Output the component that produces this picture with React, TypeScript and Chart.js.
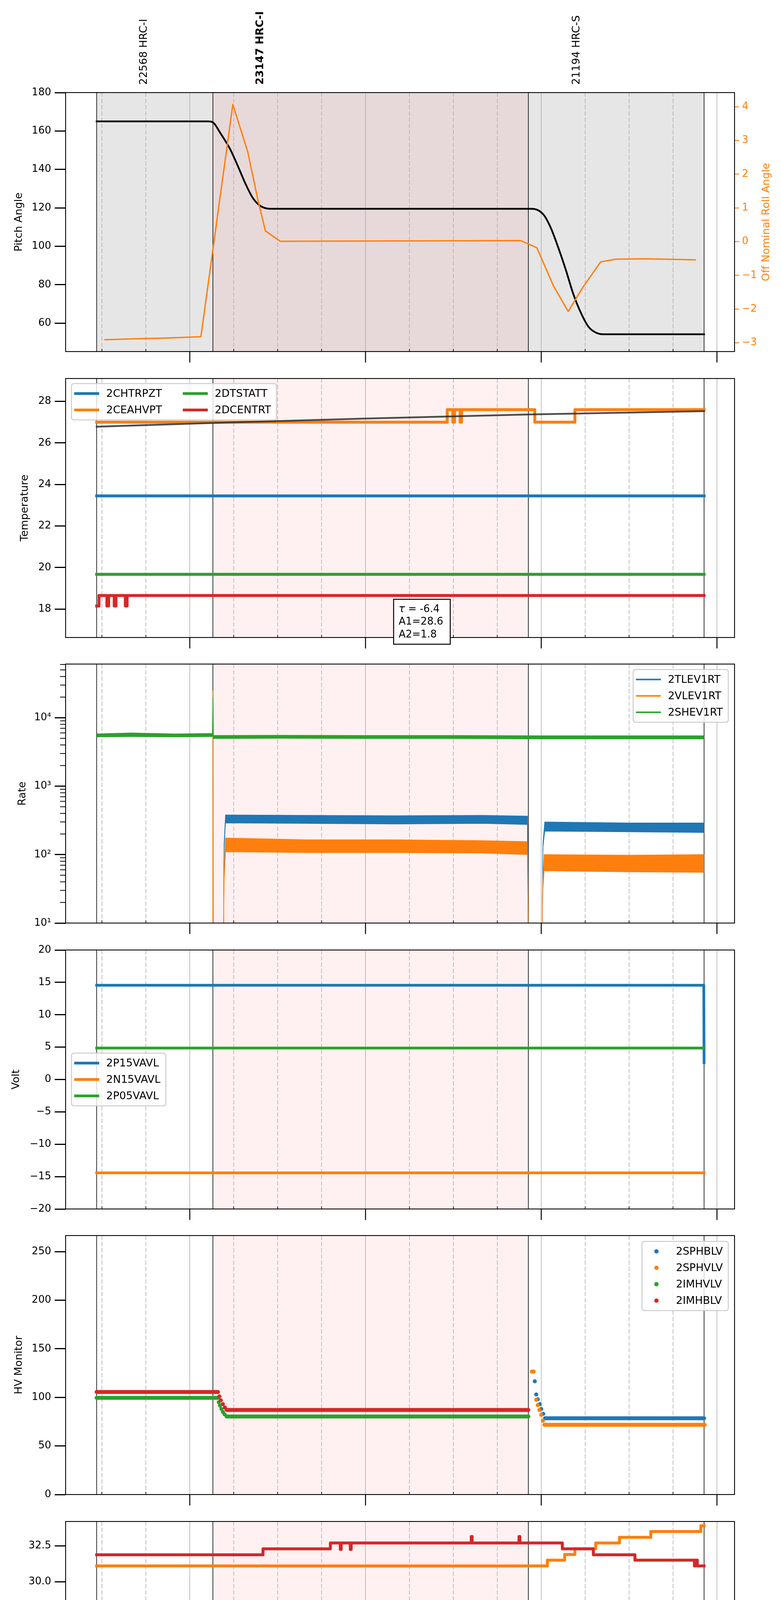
import React, { useEffect, useRef } from "react";
import { Chart, registerables } from "chart.js";

Chart.register(...registerables);

const FONT = "DejaVu Sans";
const BLUE = "#1f77b4";
const ORANGE = "#ff7f0e";
const GREEN = "#2ca02c";
const RED = "#d62728";

// ---- time axis (minutes of the day) ----
const X_MIN = "13:17.6";
const X_MAX = "17:06.0";
const OBS_EDGES = ["13:28.2", "14:07.9", "15:55.6", "16:55.6"];
const OBS_LABELS = ["22568 HRC-I", "23147 HRC-I", "21194 HRC-S"];
const OBS_LABEL_AT = ["13:44.4", "14:24.1", "16:12.1"];
const OBS_BOLD = 1;
const HOUR_TICKS = ["14:00", "15:00", "16:00", "17:00"];
const HOUR_LABELS = ["14h", "15h", "16h", "17h"];
const MINOR_TICKS = ["13:30", "13:45", "14:15", "14:30", "14:45", "15:15", "15:30", "15:45", "16:15", "16:30", "16:45"];
const MINOR_LABELS = ["30", "45", "15", "30", "45", "15", "30", "45", "15", "30", "45"];
const X_TITLE = "2020-02-17 (048)";

// ---- panel 1: pitch / roll ----
const PITCH_T = ["13:28.2", "14:06.2", "14:07.9", "14:10.4", "14:13.8", "14:16.4", "14:19.0", "14:21.5", "14:24.1", "14:27.5", "15:56.8", "16:00.7", "16:03.2", "16:05.8", "16:08.4", "16:10.9", "16:13.5", "16:16.1", "16:18.6", "16:21.2", "16:55.6"];
const PITCH_V = [165, 165, 164.5, 159, 150.5, 141.8, 132.6, 125.2, 121, 119.5, 119.5, 116.6, 109.8, 99.4, 87.7, 75.4, 65.5, 58.2, 55.1, 54.2, 54.2];
const ROLL_T = ["13:30.8", "13:41.4", "13:51.6", "14:03.8", "14:14.7", "14:19.8", "14:23.2", "14:25.8", "14:30.9", "15:12.0", "15:53.0", "15:58.5", "16:04.1", "16:09.2", "16:14.4", "16:20.3", "16:25.5", "16:35.7", "16:52.8"];
const ROLL_V = [-2.91, -2.88, -2.86, -2.82, 4.07, 2.66, 1.26, 0.32, 0.01, 0.02, 0.03, -0.18, -1.3, -2.07, -1.33, -0.6, -0.52, -0.51, -0.54];
const PITCH_TICKS = [60, 80, 100, 120, 140, 160, 180];
const ROLL_TICKS = [-3, -2, -1, 0, 1, 2, 3, 4];

// ---- panel 2: temperature ----
const CHTRPZT_T = ["13:28.2", "16:55.6"];
const CHTRPZT_V = [23.45, 23.45];
const CEAHVPT_T = ["13:28.2", "15:27.9", "15:29.8", "15:30.4", "15:32.3", "15:32.8", "15:57.8", "16:11.5", "16:55.6"];
const CEAHVPT_V = [27.0, 27.6, 27.0, 27.6, 27.0, 27.6, 27.0, 27.6, 27.6];
const DTSTATT_T = ["13:28.2", "16:55.6"];
const DTSTATT_V = [19.67, 19.67];
const DCENTRT_T = ["13:28.2", "13:29.0", "13:31.7", "13:32.3", "13:34.2", "13:34.8", "13:38.0", "13:38.6", "16:55.6"];
const DCENTRT_V = [18.15, 18.65, 18.15, 18.65, 18.15, 18.65, 18.15, 18.65, 18.65];
const FIT_T = ["13:28.2", "14:08.0", "15:00.0", "15:56.0", "16:55.6"];
const FIT_V = [26.78, 26.96, 27.17, 27.37, 27.53];
const FIT_TEXT = ["τ", " = -6.4", "A1=28.6", "A2=1.8"];
const FIT_BOX_AT = { t: "15:09.6", v: 18.47 };
const TEMP_TICKS = [18, 20, 22, 24, 26, 28];

// ---- panel 3: rates (noise band: upper / lower edge) ----
const TLEV_T = ["14:11.4", "14:11.7", "14:12.2", "14:40", "15:10", "15:40", "15:55.3", "15:55.7", "16:00.2", "16:00.6", "16:01.2", "16:30", "16:55.6"];
const TLEV_HI = [1, 140, 380, 375, 370, 375, 365, 1, 1, 150, 300, 290, 290];
const TLEV_LO = [1, 120, 290, 285, 280, 285, 275, 1, 1, 130, 220, 215, 210];
const VLEV_T = ["14:07.8", "14:07.95", "14:08.1", "14:11.4", "14:11.7", "14:12.2", "14:40", "15:10", "15:40", "15:55.3", "15:55.7", "16:00.1", "16:00.5", "16:01.0", "16:30", "16:55.6"];
const VLEV_HI = [1, 25000, 1, 1, 50, 175, 165, 165, 160, 155, 1, 1, 35, 100, 98, 100];
const VLEV_LO = [1, 24000, 1, 1, 40, 110, 107, 107, 105, 100, 1, 1, 28, 58, 56, 55];
const SHEV_T = ["13:28.2", "13:40", "13:55", "14:07.7", "14:07.9", "14:08.1", "14:30", "15:00", "15:30", "16:00", "16:30", "16:55.6"];
const SHEV_HI = [5800, 6000, 5800, 5900, 20000, 5500, 5550, 5500, 5500, 5450, 5450, 5450];
const SHEV_LO = [5250, 5300, 5250, 5300, 5400, 4950, 5000, 4950, 4950, 4900, 4900, 4900];
const RATE_TICKS = [10, 100, 1000, 10000];

// ---- panel 4: volt ----
const P15_T = ["13:28.2", "16:55.5", "16:55.6"];
const P15_V = [14.55, 14.55, 2.6];
const N15_T = ["13:28.2", "16:55.6"];
const N15_V = [-14.42, -14.42];
const P05_T = ["13:28.2", "16:55.6"];
const P05_V = [4.86, 4.86];
const VOLT_TICKS = [-20, -15, -10, -5, 0, 5, 10, 15, 20];

// ---- panel 5: HV monitor (null = gap between samples) ----
const SPHBLV_T = ["15:57.8", "15:57.8", "15:58.3", "15:58.3", "15:58.8", "15:58.8", "15:59.5", "15:59.5", "16:00.0", "16:00.0", "16:00.7", "16:00.7", "16:01.3", "16:55.6"];
const SPHBLV_V = [116.5, null, 103, null, 98, null, 93, null, 88, null, 83, null, 78.5, 78.5];
const SPHVLV_T = ["15:56.8", "15:57.4", "15:57.4", "15:58.3", "15:58.3", "15:58.8", "15:58.8", "15:59.4", "15:59.4", "16:00.0", "16:00.0", "16:00.6", "16:00.6", "16:01.1", "16:55.8"];
const SPHVLV_V = [126.5, 126.5, null, 97.5, null, 92, null, 87, null, 82, null, 76, null, 71.8, 71.8];
const IMHVLV_T = ["13:28.2", "14:09.6", "14:09.6", "14:09.9", "14:09.9", "14:10.3", "14:10.3", "14:10.8", "14:10.8", "14:11.3", "14:11.3", "14:11.9", "14:11.9", "14:12.6", "15:55.6"];
const IMHVLV_V = [99.5, 99.5, null, 95, null, 91.5, null, 88, null, 85, null, 82.5, null, 80.3, 80.3];
const IMHBLV_T = ["13:28.2", "14:09.6", "14:09.6", "14:10.1", "14:10.1", "14:10.6", "14:10.6", "14:11.3", "14:11.3", "14:12.0", "14:12.0", "14:12.6", "15:55.6"];
const IMHBLV_V = [105.5, 105.5, null, 101, null, 97, null, 93, null, 89.5, null, 87, 87];
const HV_TICKS = [0, 50, 100, 150, 200, 250];

// ---- panel 6: detector temp ----
const SPINATM_T = ["13:28.2", "16:55.6"];
const SPINATM_V = [19.61, 19.61];
const SPHVATM_T = ["13:28.2", "16:02.1", "16:08.0", "16:11.5", "16:18.6", "16:26.7", "16:37.4", "16:54.5", "16:55.6"];
const SPHVATM_V = [31.1, 31.5, 31.9, 32.3, 32.7, 33.1, 33.5, 33.9, 33.9];
const IMINATM_T = ["13:28.2", "15:23.9", "16:55.6"];
const IMINATM_V = [17.61, 18.27, 18.27];
const IMHVATM_T = ["13:28.2", "14:25.0", "14:48.0", "14:51.4", "14:51.7", "14:54.8", "14:55.1", "15:36.1", "15:36.4", "15:52.4", "15:52.7", "16:07.2", "16:17.8", "16:32.0", "16:52.3", "16:52.8", "16:53.3", "16:55.6"];
const IMHVATM_V = [31.88, 32.29, 32.7, 32.25, 32.7, 32.25, 32.7, 33.15, 32.7, 33.15, 32.7, 32.29, 31.88, 31.5, 31.1, 31.5, 31.1, 31.1];
const DET_TICKS = [17.5, 20, 22.5, 25, 27.5, 30, 32.5];

// ---- panel 7: FEA temp ----
const FHTRMZT_T = ["13:28.2", "15:12.7", "15:13.0", "15:27.1", "15:27.4", "15:45.7", "15:46.0", "15:51.3", "15:53.6", "15:53.9", "16:51.5", "16:51.8", "16:55.6"];
const FHTRMZT_V = [22.35, 21.72, 22.35, 22.92, 22.35, 21.72, 22.35, 21.83, 22.35, 21.83, 20.6, 21.83, 21.83];
const FRADPYT_T = ["13:28.2", "14:11.8", "14:23.6", "15:39.0", "16:26.8", "16:51.5", "16:55.6"];
const FRADPYT_V = [18.14, 18.65, 18.14, 17.65, 17.15, 16.67, 16.67];
const FEPRATM_T = ["13:28.2", "16:40.0", "16:40.3", "16:52.5", "16:55.6"];
const FEPRATM_V = [24.63, 23.85, 24.63, 23.85, 23.85];
const FE00ATM_T = ["13:28.2", "14:40.0", "14:40.3", "14:42.6", "14:42.9", "14:48.4", "14:48.7", "14:51.8", "14:52.1", "15:10.8", "15:11.1", "15:27.0", "15:27.3", "15:29.9", "15:30.2", "15:32.5", "15:32.8",
  "15:33.8", "15:34.4", "15:35.0", "15:35.7", "15:36.3", "15:37.0", "15:37.6", "15:38.4", "15:39.0", "15:39.8", "15:40.4", "15:41.2", "15:41.8", "15:42.7", "15:43.3", "15:44.2", "15:44.8",
  "15:47.0", "15:47.3", "16:11.5", "16:11.8", "16:30.9", "16:31.2", "16:31.5", "16:31.8", "16:38.3", "16:38.6", "16:40.0", "16:40.3", "16:48.0", "16:48.3", "16:51.1", "16:55.6"];
const FE00ATM_V = [22.02, 22.35, 22.02, 22.35, 22.02, 21.38, 22.02, 21.38, 22.02, 21.38, 22.02, 21.75, 22.02, 21.75, 22.02, 21.75, 22.02,
  21.72, 22.05, 21.72, 22.05, 21.72, 22.05, 21.72, 22.05, 21.72, 22.05, 21.72, 22.05, 21.72, 22.05, 21.72, 22.05, 21.72,
  21.38, 21.72, 22.05, 21.72, 22.05, 21.72, 21.05, 21.72, 21.05, 21.72, 21.38, 21.72, 21.05, 21.72, 21.41, 21.41];
const FEA_TICKS = [18, 20, 22, 24, 26];

// ---- layout ----
const W = 2000;
const LEFT_W = 168;
const RIGHT_W = 119;
const PANEL_TOP = [237, 969, 1700, 2432, 3163, 3895, 4627];
const PANEL_H = 663;
const CANVAS_TOP = PANEL_TOP.map((t, i) => (i === 0 ? 0 : t - 30));
const CANVAS_H = PANEL_TOP.map((t, i) => (i < 6 ? PANEL_TOP[i + 1] - 30 : 5400) - CANVAS_TOP[i]);

const tm = (s: string) => {
  const [h, m] = s.split(":");
  return Number(h) * 60 + Number(m);
};
const pts = (t: string[], v: (number | null)[]) => t.map((s, i) => ({ x: tm(s), y: v[i] }));
const stepPts = (t: string[], v: number[]) => {
  const out: { x: number; y: number }[] = [];
  t.forEach((s, i) => {
    if (i > 0) out.push({ x: tm(s), y: v[i - 1] });
    out.push({ x: tm(s), y: v[i] });
  });
  return out;
};
const minus = (v: number) => (v < 0 ? "\u2212" + Math.abs(v) : String(v));
const SUP = ["\u2070", "\u00b9", "\u00b2", "\u00b3", "\u2074", "\u2075"];

const line = (label: string, color: string, data: any[], width: number, extra: any = {}) => ({
  label,
  data,
  borderColor: color,
  backgroundColor: color,
  borderWidth: width,
  pointRadius: 0,
  pointHoverRadius: 0,
  fill: false,
  tension: 0,
  borderCapStyle: "square",
  borderJoinStyle: "round",
  ...extra,
});

const band = (label: string, color: string, t: string[], hi: number[], lo: number[]) => [
  line(label, color, pts(t, hi), 1.5, { fill: "+1", backgroundColor: color, borderCapStyle: "butt" }),
  line("_" + label, color, pts(t, lo), 1.5, { borderCapStyle: "butt" }),
];

const hv = (label: string, color: string, t: string[], v: (number | null)[]) =>
  line(label, color, pts(t, v), 10, {
    borderCapStyle: "round",
    pointRadius: 5,
    pointBorderWidth: 0,
    pointBackgroundColor: color,
    spanGaps: false,
  });

function yScale(title: string, titlePad: number, min: number, max: number, ticks: number[], fmt: (v: number) => string = minus, type = "linear") {
  return {
    type,
    position: "left",
    min,
    max,
    bounds: "data",
    afterFit: (s: any) => {
      s.width = LEFT_W;
    },
    afterBuildTicks: (s: any) => {
      s.ticks = ticks.map((value) => ({ value }));
    },
    ticks: { font: { family: FONT, size: 26 }, color: "#000", padding: 9, autoSkip: false, maxRotation: 0, callback: (v: any) => fmt(Number(v)) },
    grid: { drawOnChartArea: false, drawTicks: true, tickLength: 28, tickWidth: 3, tickColor: "#000" },
    border: { display: false },
    title: { display: true, text: title, color: "#000", font: { family: FONT, size: 27 }, padding: { top: titlePad, bottom: 0 } },
  };
}

function roundRect(ctx: CanvasRenderingContext2D, x: number, y: number, w: number, h: number, r: number) {
  ctx.beginPath();
  ctx.moveTo(x + r, y);
  ctx.arcTo(x + w, y, x + w, y + h, r);
  ctx.arcTo(x + w, y + h, x, y + h, r);
  ctx.arcTo(x, y + h, x, y, r);
  ctx.arcTo(x, y, x + w, y, r);
  ctx.closePath();
}

function drawLegend(chart: any, lg: any) {
  const { ctx, chartArea: a } = chart;
  const items = chart.data.datasets
    .filter((d: any) => d.label && d.label[0] !== "_")
    .map((d: any) => ({ label: d.label, color: d.borderColor }));
  ctx.save();
  ctx.font = `27px ${FONT}`;
  const cols = lg.cols || 1;
  const rows = Math.ceil(items.length / cols);
  const textOff = lg.dot ? 87 : 89;
  const colX: number[] = [];
  let width = 0;
  for (let c = 0; c < cols; c++) {
    const w = Math.max(...items.slice(c * rows, (c + 1) * rows).map((it: any) => ctx.measureText(it.label).width));
    colX.push(width);
    width += textOff + w + (c < cols - 1 ? 46 : 14);
  }
  const height = 51 + (rows - 1) * 42;
  const L = lg.side === "left" ? a.left + 15 : a.right - 16 - width;
  const T = lg.top === "center" ? (a.top + a.bottom - height) / 2 : a.top + lg.top;
  roundRect(ctx, L, T, width, height, 6);
  ctx.fillStyle = "rgba(255,255,255,0.8)";
  ctx.fill();
  ctx.strokeStyle = "#cccccc";
  ctx.lineWidth = 2.5;
  ctx.stroke();
  items.forEach((it: any, k: number) => {
    const c = Math.floor(k / rows);
    const r = k % rows;
    const x0 = L + colX[c];
    const yy = T + 25.5 + r * 42;
    if (lg.dot) {
      ctx.fillStyle = it.color;
      ctx.beginPath();
      ctx.arc(x0 + 37, yy, 5.5, 0, Math.PI * 2);
      ctx.fill();
    } else {
      ctx.strokeStyle = it.color;
      ctx.lineWidth = lg.lw;
      ctx.lineCap = "butt";
      ctx.beginPath();
      ctx.moveTo(x0 + 7, yy);
      ctx.lineTo(x0 + 71, yy);
      ctx.stroke();
    }
    ctx.fillStyle = "#000";
    ctx.textAlign = "left";
    ctx.textBaseline = "middle";
    ctx.fillText(it.label, x0 + textOff, yy + 1);
  });
  ctx.restore();
}

function decor(cfg: any) {
  return {
    id: "decor",
    beforeDatasetsDraw(chart: any) {
      const { ctx, chartArea: a } = chart;
      const px = (s: string) => chart.scales.x.getPixelForValue(tm(s));
      const vline = (xx: number) => {
        ctx.beginPath();
        ctx.moveTo(xx, a.top);
        ctx.lineTo(xx, a.bottom);
        ctx.stroke();
      };
      ctx.save();
      ctx.beginPath();
      ctx.rect(a.left, a.top, a.right - a.left, a.bottom - a.top);
      ctx.clip();
      if (cfg.gray) {
        ctx.fillStyle = "rgba(128,128,128,0.2)";
        ctx.fillRect(px(OBS_EDGES[0]), a.top, px(OBS_EDGES[3]) - px(OBS_EDGES[0]), a.bottom - a.top);
      }
      ctx.fillStyle = "rgba(255,0,0,0.055)";
      ctx.fillRect(px(OBS_EDGES[1]), a.top, px(OBS_EDGES[2]) - px(OBS_EDGES[1]), a.bottom - a.top);
      ctx.strokeStyle = "#b0b0b0";
      ctx.lineWidth = 1.6;
      ctx.setLineDash([11, 5]);
      MINOR_TICKS.forEach((s) => vline(px(s)));
      ctx.setLineDash([]);
      HOUR_TICKS.forEach((s) => vline(px(s)));
      ctx.strokeStyle = "#000";
      OBS_EDGES.forEach((s) => vline(px(s)));
      ctx.restore();
    },
    afterDraw(chart: any) {
      const { ctx, chartArea: a } = chart;
      const px = (s: string) => chart.scales.x.getPixelForValue(tm(s));
      const seg = (x1: number, y1: number, x2: number, y2: number) => {
        ctx.beginPath();
        ctx.moveTo(x1, y1);
        ctx.lineTo(x2, y2);
        ctx.stroke();
      };
      ctx.save();
      ctx.strokeStyle = "#000";
      ctx.lineWidth = 2.2;
      ctx.strokeRect(a.left, a.top, a.right - a.left, a.bottom - a.top);
      ctx.lineWidth = 2.5;
      HOUR_TICKS.forEach((s) => seg(px(s), a.bottom, px(s), a.bottom + 28));
      ctx.lineWidth = 1.6;
      MINOR_TICKS.forEach((s) => seg(px(s), a.bottom, px(s), a.bottom - 7));

      if (cfg.logMinor) {
        const y = chart.scales.y;
        ctx.lineWidth = 2;
        for (let d = 1; d <= 4; d++) {
          for (let m = 2; m <= 9; m++) {
            const v = m * Math.pow(10, d);
            if (v > y.max) continue;
            const yy = y.getPixelForValue(v);
            seg(a.left - 14, yy, a.left, yy);
          }
        }
      }

      if (cfg.obs) {
        OBS_LABELS.forEach((s, i) => {
          ctx.save();
          ctx.translate(px(OBS_LABEL_AT[i]), a.top - 20);
          ctx.rotate(-Math.PI / 2);
          ctx.font = `${i === OBS_BOLD ? "bold " : ""}27px ${FONT}`;
          ctx.fillStyle = "#000";
          ctx.textAlign = "left";
          ctx.textBaseline = "middle";
          ctx.fillText(s, 0, 0);
          ctx.restore();
        });
        ctx.save();
        ctx.translate(a.right + 82, (a.top + a.bottom) / 2);
        ctx.rotate(-Math.PI / 2);
        ctx.font = `27px ${FONT}`;
        ctx.fillStyle = ORANGE;
        ctx.textAlign = "center";
        ctx.textBaseline = "middle";
        ctx.fillText("Off Nominal Roll Angle", 0, 0);
        ctx.restore();
      }

      if (cfg.box) {
        const bx = px(FIT_BOX_AT.t);
        const by = chart.scales.y.getPixelForValue(FIT_BOX_AT.v);
        ctx.fillStyle = "#fff";
        ctx.fillRect(bx, by, 145, 115);
        ctx.strokeStyle = "#000";
        ctx.lineWidth = 2.5;
        ctx.strokeRect(bx, by, 145, 115);
        ctx.fillStyle = "#000";
        ctx.textAlign = "left";
        ctx.textBaseline = "alphabetic";
        ctx.font = `italic 26px ${FONT}`;
        ctx.fillText(FIT_TEXT[0], bx + 13, by + 33);
        const tw = ctx.measureText(FIT_TEXT[0]).width;
        ctx.font = `26px ${FONT}`;
        ctx.fillText(FIT_TEXT[1], bx + 13 + tw, by + 33);
        ctx.fillText(FIT_TEXT[2], bx + 13, by + 65);
        ctx.fillText(FIT_TEXT[3], bx + 13, by + 98);
      }

      if (cfg.xLabels) {
        ctx.fillStyle = "#000";
        ctx.textAlign = "center";
        ctx.textBaseline = "top";
        ctx.font = `19px ${FONT}`;
        MINOR_TICKS.forEach((s, i) => ctx.fillText(MINOR_LABELS[i], px(s), a.bottom + 8));
        ctx.textBaseline = "alphabetic";
        ctx.font = `27px ${FONT}`;
        HOUR_TICKS.forEach((s, i) => ctx.fillText(HOUR_LABELS[i], px(s), a.bottom + 58));
        ctx.fillText(X_TITLE, (a.left + a.right) / 2, a.bottom + 95);
      }

      if (cfg.legend) drawLegend(chart, cfg.legend);
      ctx.restore();
    },
  };
}

function makeConfig(i: number, datasets: any[], yScales: any, deco: any) {
  const padTop = i === 0 ? 237 : 30;
  const padBottom = CANVAS_H[i] - padTop - PANEL_H;
  return {
    type: "line",
    data: { datasets: datasets.map((d, k) => ({ ...d, order: -k })) },
    options: {
      animation: false,
      responsive: false,
      devicePixelRatio: 1,
      events: [],
      layout: { padding: { left: 0, right: yScales.y2 ? 0 : RIGHT_W, top: padTop, bottom: padBottom } },
      scales: {
        x: { type: "linear", display: false, min: tm(X_MIN), max: tm(X_MAX), bounds: "data" },
        ...yScales,
      },
      plugins: { legend: { display: false }, tooltip: { enabled: false } },
    },
    plugins: [decor(deco)],
  } as any;
}

function buildConfigs() {
  const pitch = makeConfig(
    0,
    [
      line("Pitch", "#000", pts(PITCH_T, PITCH_V), 4.5, { cubicInterpolationMode: "monotone" }),
      line("Roll", ORANGE, pts(ROLL_T, ROLL_V), 3.5, { yAxisID: "y2", borderCapStyle: "butt" }),
    ],
    {
      y: yScale("Pitch Angle", 32.8, 45.2, 180, PITCH_TICKS),
      y2: {
        type: "linear",
        position: "right",
        min: -3.26,
        max: 4.42,
        bounds: "data",
        afterFit: (s: any) => {
          s.width = RIGHT_W;
        },
        afterBuildTicks: (s: any) => {
          s.ticks = ROLL_TICKS.map((value) => ({ value }));
        },
        ticks: { font: { family: FONT, size: 26 }, color: ORANGE, padding: 7, autoSkip: false, callback: (v: any) => minus(Number(v)) },
        grid: { drawOnChartArea: false, drawTicks: true, tickLength: 12, tickWidth: 2.2, tickColor: ORANGE },
        border: { display: false },
        title: { display: false },
      },
    },
    { gray: true, obs: true }
  );

  const temp = makeConfig(
    1,
    [
      line("2CHTRPZT", BLUE, pts(CHTRPZT_T, CHTRPZT_V), 7.5),
      line("2CEAHVPT", ORANGE, stepPts(CEAHVPT_T, CEAHVPT_V), 7.5),
      line("2DTSTATT", GREEN, pts(DTSTATT_T, DTSTATT_V), 7.5),
      line("2DCENTRT", RED, stepPts(DCENTRT_T, DCENTRT_V), 7.5),
      line("_fit", "rgba(45,45,45,0.85)", pts(FIT_T, FIT_V), 4.5),
    ],
    { y: yScale("Temperature", 47.8, 16.63, 29.1, TEMP_TICKS) },
    { legend: { side: "left", top: 13, cols: 2, lw: 7 }, box: true }
  );

  const rate = makeConfig(
    2,
    [
      ...band("2TLEV1RT", BLUE, TLEV_T, TLEV_HI, TLEV_LO),
      ...band("2VLEV1RT", ORANGE, VLEV_T, VLEV_HI, VLEV_LO),
      ...band("2SHEV1RT", GREEN, SHEV_T, SHEV_HI, SHEV_LO),
    ],
    { y: yScale("Rate", 41.5, 10, 60800, RATE_TICKS, (v) => "10" + SUP[Math.round(Math.log10(v))], "logarithmic") },
    { legend: { side: "right", top: 14, lw: 4 }, logMinor: true }
  );

  const volt = makeConfig(
    3,
    [
      line("2P15VAVL", BLUE, pts(P15_T, P15_V), 7),
      line("2N15VAVL", ORANGE, pts(N15_T, N15_V), 7),
      line("2P05VAVL", GREEN, pts(P05_T, P05_V), 7),
    ],
    { y: yScale("Volt", 26.1, -20, 20, VOLT_TICKS) },
    { legend: { side: "left", top: "center", lw: 7 } }
  );

  const hvmon = makeConfig(
    4,
    [
      hv("2SPHBLV", BLUE, SPHBLV_T, SPHBLV_V),
      hv("2SPHVLV", ORANGE, SPHVLV_T, SPHVLV_V),
      hv("2IMHVLV", GREEN, IMHVLV_T, IMHVLV_V),
      hv("2IMHBLV", RED, IMHBLV_T, IMHBLV_V),
    ],
    { y: yScale("HV Monitor", 32.5, 0, 266.5, HV_TICKS) },
    { legend: { side: "right", top: 15, dot: true } }
  );

  const det = makeConfig(
    5,
    [
      line("2SPINATM", BLUE, pts(SPINATM_T, SPINATM_V), 7.5),
      line("2SPHVATM", ORANGE, stepPts(SPHVATM_T, SPHVATM_V), 7.5),
      line("2IMINATM", GREEN, stepPts(IMINATM_T, IMINATM_V), 7.5),
      line("2IMHVATM", RED, stepPts(IMHVATM_T, IMHVATM_V), 7.5),
    ],
    { y: yScale("Detector Temp", 26.1, 16.14, 34.2, DET_TICKS, (v) => v.toFixed(1)) },
    { legend: { side: "right", top: "center", lw: 7 } }
  );

  const fea = makeConfig(
    6,
    [
      line("2FHTRMZT", BLUE, stepPts(FHTRMZT_T, FHTRMZT_V), 7.5),
      line("2FRADPYT", ORANGE, stepPts(FRADPYT_T, FRADPYT_V), 7.5),
      line("2FEPRATM", GREEN, stepPts(FEPRATM_T, FEPRATM_V), 7.5),
      line("2FE00ATM", RED, stepPts(FE00ATM_T, FE00ATM_V), 7.5),
    ],
    { y: yScale("FEA Temp", 50.5, 16.14, 26.135, FEA_TICKS) },
    { legend: { side: "left", top: 15, lw: 7 }, xLabels: true }
  );

  return [pitch, temp, rate, volt, hvmon, det, fea];
}

const App = () => {
  const canvasRefs = useRef<(HTMLCanvasElement | null)[]>([]);

  useEffect(() => {
    document.body.style.margin = "0";
    const charts = buildConfigs().map((cfg, i) => new Chart(canvasRefs.current[i] as HTMLCanvasElement, cfg));
    return () => {
      charts.forEach((c) => c.destroy());
    };
  }, []);

  return (
    <div style={{ position: "relative", width: W, height: 5400, background: "#fff" }}>
      {CANVAS_TOP.map((top, i) => (
        <canvas
          key={i}
          ref={(el) => {
            canvasRefs.current[i] = el;
          }}
          width={W}
          height={CANVAS_H[i]}
          style={{ position: "absolute", left: 0, top, width: W, height: CANVAS_H[i] }}
        />
      ))}
    </div>
  );
};

export default App;
